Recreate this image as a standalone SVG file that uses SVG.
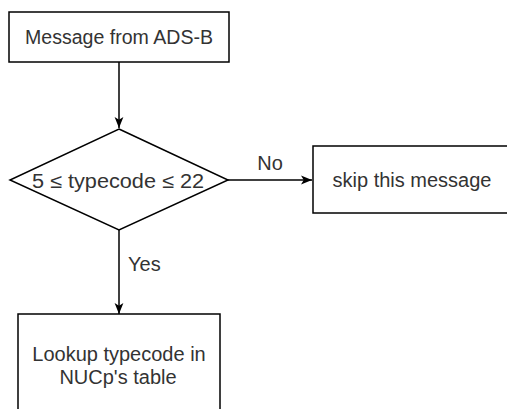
<svg xmlns="http://www.w3.org/2000/svg" width="507" height="409" viewBox="0 0 507 409">
<defs>
<marker id="arr" viewBox="0 0 10 10" refX="10" refY="5" markerWidth="11" markerHeight="11" markerUnits="userSpaceOnUse" orient="auto">
<path d="M0,1 L10,5 L0,9 L2.5,5 Z" fill="#000"/>
</marker>
</defs>
<style>
.shape{fill:#fff;stroke:#000;stroke-width:1.5}
.edge{fill:none;stroke:#000;stroke-width:1.5}
text{font-family:"Liberation Sans",Arial,sans-serif;font-size:20px;fill:#333}
.c{text-anchor:middle}
</style>
<rect width="507" height="409" fill="#fff"/>
<g id="connectors">
<line class="edge" x1="119" y1="62" x2="119" y2="128" marker-end="url(#arr)"/>
<line class="edge" x1="228" y1="180" x2="312" y2="180" marker-end="url(#arr)"/>
<line class="edge" x1="119" y1="230" x2="119" y2="314" marker-end="url(#arr)"/>
<text x="270" y="170" class="c">No</text>
<text x="128" y="271">Yes</text>
</g>
<g id="start">
<rect class="shape" x="9" y="12" width="220" height="50"/>
<text x="119" y="44" class="c" textLength="188" lengthAdjust="spacingAndGlyphs">Message from ADS-B</text>
</g>
<g id="decision">
<polygon class="shape" points="119,129 228,180 119,230 10,180"/>
<text x="118" y="188" class="c" textLength="172" lengthAdjust="spacingAndGlyphs">5 ≤ typecode ≤ 22</text>
</g>
<g id="skip">
<rect class="shape" x="313" y="146" width="200" height="67"/>
<text x="412" y="187" class="c">skip this message</text>
</g>
<g id="lookup">
<rect class="shape" x="18" y="314" width="202" height="110"/>
<text x="119" y="361" class="c">Lookup typecode in</text>
<text x="118" y="384" class="c">NUCp's table</text>
</g>
</svg>
